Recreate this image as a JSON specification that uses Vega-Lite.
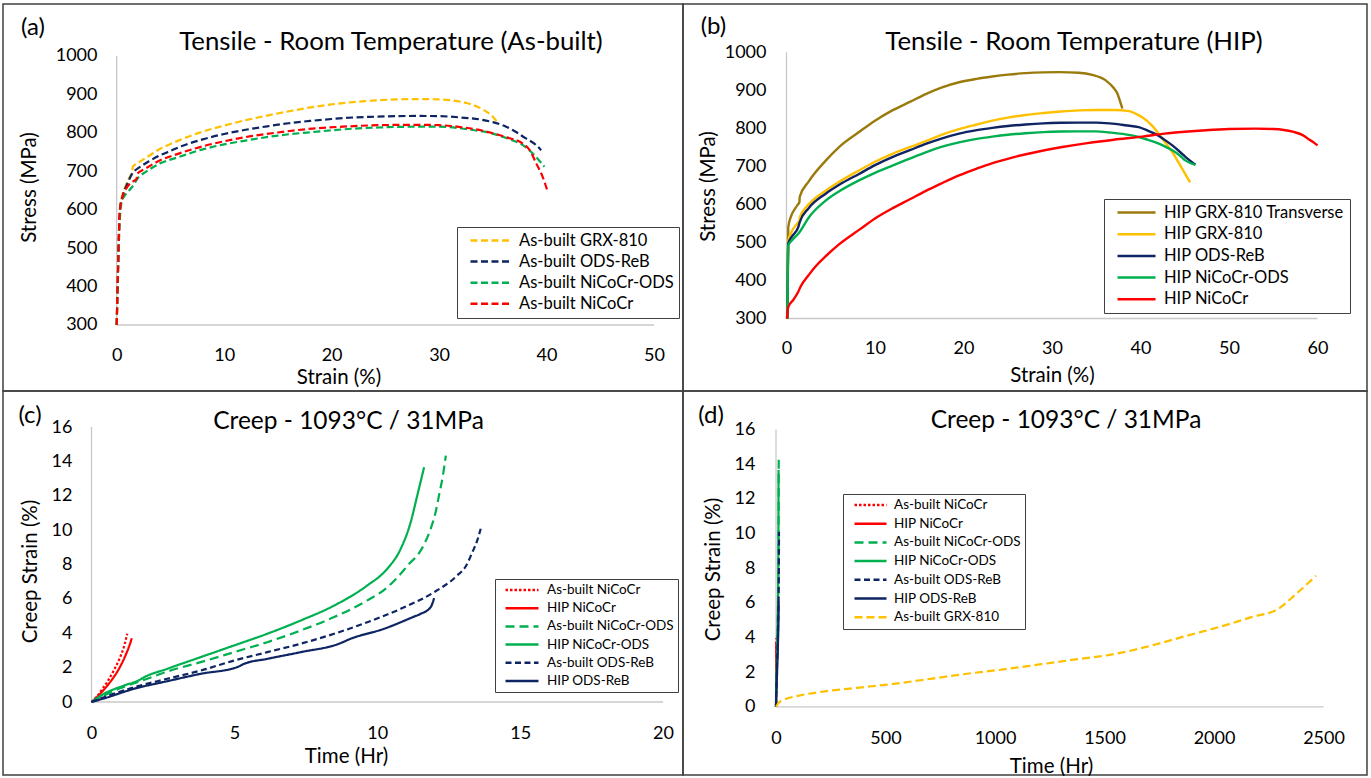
{
  "$schema": "https://vega.github.io/schema/vega-lite/v6.json",
  "padding": {"left": 2, "top": 3, "right": 3, "bottom": 2},
  "background": "white",
  "config": {
    "view": {"stroke": "#404040", "strokeWidth": 1.5},
    "font": "Lato",
    "axis": {"domain": false, "ticks": false, "tickSize": 0, "grid": false, "labelFont": "Lato", "labelFontSize": 18, "labelColor": "#000000", "titleFont": "Lato", "titleFontSize": 20.5, "titleFontWeight": "normal", "titleColor": "#000000", "labelFlush": false, "labelOverlap": false},
    "legend": {"title": null, "orient": "none", "symbolType": "stroke", "symbolStrokeWidth": 2.5, "labelFont": "Lato", "labelColor": "#000000", "fillColor": "white", "strokeColor": "#404040", "labelLimit": 400},
    "title": {"font": "Lato", "fontWeight": "normal", "color": "#000000", "anchor": "middle", "frame": "group", "baseline": "middle", "offset": 0},
    "line": {"interpolate": "monotone"}
  },
  "datasets": {
    "tensileAsBuilt": [
      {"series": "As-built GRX-810", "strain": 0, "stress": 300},
      {"series": "As-built GRX-810", "strain": 0.1, "stress": 420},
      {"series": "As-built GRX-810", "strain": 0.2, "stress": 530},
      {"series": "As-built GRX-810", "strain": 0.3, "stress": 600},
      {"series": "As-built GRX-810", "strain": 0.5, "stress": 635},
      {"series": "As-built GRX-810", "strain": 0.8, "stress": 660},
      {"series": "As-built GRX-810", "strain": 1.2, "stress": 685},
      {"series": "As-built GRX-810", "strain": 1.45, "stress": 700},
      {"series": "As-built GRX-810", "strain": 1.5, "stress": 712},
      {"series": "As-built GRX-810", "strain": 2, "stress": 722},
      {"series": "As-built GRX-810", "strain": 3, "stress": 740},
      {"series": "As-built GRX-810", "strain": 4, "stress": 758},
      {"series": "As-built GRX-810", "strain": 5, "stress": 771},
      {"series": "As-built GRX-810", "strain": 6, "stress": 783},
      {"series": "As-built GRX-810", "strain": 8, "stress": 803},
      {"series": "As-built GRX-810", "strain": 10, "stress": 819},
      {"series": "As-built GRX-810", "strain": 12, "stress": 833},
      {"series": "As-built GRX-810", "strain": 14, "stress": 845},
      {"series": "As-built GRX-810", "strain": 16, "stress": 856},
      {"series": "As-built GRX-810", "strain": 18.2, "stress": 867},
      {"series": "As-built GRX-810", "strain": 20, "stress": 874},
      {"series": "As-built GRX-810", "strain": 22, "stress": 880},
      {"series": "As-built GRX-810", "strain": 24.4, "stress": 885},
      {"series": "As-built GRX-810", "strain": 26, "stress": 887},
      {"series": "As-built GRX-810", "strain": 28, "stress": 888},
      {"series": "As-built GRX-810", "strain": 30, "stress": 887},
      {"series": "As-built GRX-810", "strain": 32, "stress": 881},
      {"series": "As-built GRX-810", "strain": 33, "stress": 874},
      {"series": "As-built GRX-810", "strain": 34, "stress": 862},
      {"series": "As-built GRX-810", "strain": 35, "stress": 842},
      {"series": "As-built GRX-810", "strain": 35.5, "stress": 825},
      {"series": "As-built ODS-ReB", "strain": 0, "stress": 300},
      {"series": "As-built ODS-ReB", "strain": 0.1, "stress": 420},
      {"series": "As-built ODS-ReB", "strain": 0.2, "stress": 530},
      {"series": "As-built ODS-ReB", "strain": 0.3, "stress": 600},
      {"series": "As-built ODS-ReB", "strain": 0.6, "stress": 640},
      {"series": "As-built ODS-ReB", "strain": 1.0, "stress": 668},
      {"series": "As-built ODS-ReB", "strain": 1.4, "stress": 692},
      {"series": "As-built ODS-ReB", "strain": 1.7, "stress": 702},
      {"series": "As-built ODS-ReB", "strain": 2, "stress": 708},
      {"series": "As-built ODS-ReB", "strain": 3, "stress": 726},
      {"series": "As-built ODS-ReB", "strain": 4, "stress": 741},
      {"series": "As-built ODS-ReB", "strain": 5, "stress": 753},
      {"series": "As-built ODS-ReB", "strain": 6, "stress": 765},
      {"series": "As-built ODS-ReB", "strain": 8, "stress": 783},
      {"series": "As-built ODS-ReB", "strain": 10, "stress": 797},
      {"series": "As-built ODS-ReB", "strain": 12, "stress": 808},
      {"series": "As-built ODS-ReB", "strain": 14, "stress": 817},
      {"series": "As-built ODS-ReB", "strain": 16, "stress": 825},
      {"series": "As-built ODS-ReB", "strain": 18, "stress": 831},
      {"series": "As-built ODS-ReB", "strain": 20, "stress": 836},
      {"series": "As-built ODS-ReB", "strain": 22, "stress": 840},
      {"series": "As-built ODS-ReB", "strain": 24, "stress": 842},
      {"series": "As-built ODS-ReB", "strain": 26, "stress": 843.5},
      {"series": "As-built ODS-ReB", "strain": 28, "stress": 844},
      {"series": "As-built ODS-ReB", "strain": 30, "stress": 843.5},
      {"series": "As-built ODS-ReB", "strain": 32, "stress": 840},
      {"series": "As-built ODS-ReB", "strain": 34, "stress": 834},
      {"series": "As-built ODS-ReB", "strain": 35, "stress": 828},
      {"series": "As-built ODS-ReB", "strain": 36, "stress": 819},
      {"series": "As-built ODS-ReB", "strain": 37, "stress": 805},
      {"series": "As-built ODS-ReB", "strain": 38, "stress": 787},
      {"series": "As-built ODS-ReB", "strain": 39, "stress": 769},
      {"series": "As-built ODS-ReB", "strain": 39.5, "stress": 755},
      {"series": "As-built NiCoCr-ODS", "strain": 0, "stress": 300},
      {"series": "As-built NiCoCr-ODS", "strain": 0.1, "stress": 410},
      {"series": "As-built NiCoCr-ODS", "strain": 0.2, "stress": 510},
      {"series": "As-built NiCoCr-ODS", "strain": 0.3, "stress": 580},
      {"series": "As-built NiCoCr-ODS", "strain": 0.5, "stress": 624},
      {"series": "As-built NiCoCr-ODS", "strain": 1.0, "stress": 645},
      {"series": "As-built NiCoCr-ODS", "strain": 1.43, "stress": 659},
      {"series": "As-built NiCoCr-ODS", "strain": 2.05, "stress": 685},
      {"series": "As-built NiCoCr-ODS", "strain": 2.67, "stress": 698},
      {"series": "As-built NiCoCr-ODS", "strain": 4, "stress": 720},
      {"series": "As-built NiCoCr-ODS", "strain": 5.77, "stress": 737},
      {"series": "As-built NiCoCr-ODS", "strain": 8, "stress": 757},
      {"series": "As-built NiCoCr-ODS", "strain": 10, "stress": 770},
      {"series": "As-built NiCoCr-ODS", "strain": 12, "stress": 780},
      {"series": "As-built NiCoCr-ODS", "strain": 15, "stress": 793},
      {"series": "As-built NiCoCr-ODS", "strain": 18.2, "stress": 802},
      {"series": "As-built NiCoCr-ODS", "strain": 21, "stress": 809},
      {"series": "As-built NiCoCr-ODS", "strain": 24.4, "stress": 814},
      {"series": "As-built NiCoCr-ODS", "strain": 28, "stress": 816},
      {"series": "As-built NiCoCr-ODS", "strain": 30, "stress": 816},
      {"series": "As-built NiCoCr-ODS", "strain": 32, "stress": 812},
      {"series": "As-built NiCoCr-ODS", "strain": 33, "stress": 808},
      {"series": "As-built NiCoCr-ODS", "strain": 35, "stress": 798},
      {"series": "As-built NiCoCr-ODS", "strain": 36, "stress": 789},
      {"series": "As-built NiCoCr-ODS", "strain": 37, "stress": 779},
      {"series": "As-built NiCoCr-ODS", "strain": 37.8, "stress": 768},
      {"series": "As-built NiCoCr-ODS", "strain": 38.5, "stress": 752},
      {"series": "As-built NiCoCr-ODS", "strain": 39, "stress": 738},
      {"series": "As-built NiCoCr-ODS", "strain": 39.5, "stress": 722},
      {"series": "As-built NiCoCr-ODS", "strain": 39.8, "stress": 712},
      {"series": "As-built NiCoCr", "strain": 0, "stress": 300},
      {"series": "As-built NiCoCr", "strain": 0.1, "stress": 420},
      {"series": "As-built NiCoCr", "strain": 0.2, "stress": 530},
      {"series": "As-built NiCoCr", "strain": 0.3, "stress": 600},
      {"series": "As-built NiCoCr", "strain": 0.6, "stress": 638},
      {"series": "As-built NiCoCr", "strain": 1.0, "stress": 660},
      {"series": "As-built NiCoCr", "strain": 1.5, "stress": 673},
      {"series": "As-built NiCoCr", "strain": 1.85, "stress": 680},
      {"series": "As-built NiCoCr", "strain": 1.9, "stress": 693},
      {"series": "As-built NiCoCr", "strain": 2.67, "stress": 707},
      {"series": "As-built NiCoCr", "strain": 4, "stress": 728},
      {"series": "As-built NiCoCr", "strain": 5.77, "stress": 746},
      {"series": "As-built NiCoCr", "strain": 8, "stress": 765},
      {"series": "As-built NiCoCr", "strain": 10, "stress": 778},
      {"series": "As-built NiCoCr", "strain": 12, "stress": 789},
      {"series": "As-built NiCoCr", "strain": 15, "stress": 801},
      {"series": "As-built NiCoCr", "strain": 18.2, "stress": 811},
      {"series": "As-built NiCoCr", "strain": 21, "stress": 816},
      {"series": "As-built NiCoCr", "strain": 24.4, "stress": 820},
      {"series": "As-built NiCoCr", "strain": 28, "stress": 821},
      {"series": "As-built NiCoCr", "strain": 30, "stress": 820},
      {"series": "As-built NiCoCr", "strain": 32, "stress": 815},
      {"series": "As-built NiCoCr", "strain": 34, "stress": 806},
      {"series": "As-built NiCoCr", "strain": 35, "stress": 799},
      {"series": "As-built NiCoCr", "strain": 36.2, "stress": 789},
      {"series": "As-built NiCoCr", "strain": 37.8, "stress": 772},
      {"series": "As-built NiCoCr", "strain": 38.5, "stress": 752},
      {"series": "As-built NiCoCr", "strain": 39.05, "stress": 720},
      {"series": "As-built NiCoCr", "strain": 39.65, "stress": 685},
      {"series": "As-built NiCoCr", "strain": 40.07, "stress": 650}
    ],
    "tensileHip": [
      {"series": "HIP GRX-810 Transverse", "strain": 0.1, "stress": 300},
      {"series": "HIP GRX-810 Transverse", "strain": 0.2, "stress": 540},
      {"series": "HIP GRX-810 Transverse", "strain": 0.47, "stress": 566},
      {"series": "HIP GRX-810 Transverse", "strain": 1.0, "stress": 590},
      {"series": "HIP GRX-810 Transverse", "strain": 1.33, "stress": 601},
      {"series": "HIP GRX-810 Transverse", "strain": 1.45, "stress": 605},
      {"series": "HIP GRX-810 Transverse", "strain": 1.5, "stress": 620},
      {"series": "HIP GRX-810 Transverse", "strain": 2.5, "stress": 660},
      {"series": "HIP GRX-810 Transverse", "strain": 4.43, "stress": 715},
      {"series": "HIP GRX-810 Transverse", "strain": 6, "stress": 752},
      {"series": "HIP GRX-810 Transverse", "strain": 8.19, "stress": 790},
      {"series": "HIP GRX-810 Transverse", "strain": 10, "stress": 820},
      {"series": "HIP GRX-810 Transverse", "strain": 11.96, "stress": 847},
      {"series": "HIP GRX-810 Transverse", "strain": 14, "stress": 870},
      {"series": "HIP GRX-810 Transverse", "strain": 15.73, "stress": 890},
      {"series": "HIP GRX-810 Transverse", "strain": 17.5, "stress": 907},
      {"series": "HIP GRX-810 Transverse", "strain": 19.5, "stress": 921},
      {"series": "HIP GRX-810 Transverse", "strain": 21.5, "stress": 930},
      {"series": "HIP GRX-810 Transverse", "strain": 23.25, "stress": 936},
      {"series": "HIP GRX-810 Transverse", "strain": 25, "stress": 941},
      {"series": "HIP GRX-810 Transverse", "strain": 27, "stress": 945},
      {"series": "HIP GRX-810 Transverse", "strain": 29, "stress": 947},
      {"series": "HIP GRX-810 Transverse", "strain": 30.8, "stress": 947.5},
      {"series": "HIP GRX-810 Transverse", "strain": 33, "stress": 946},
      {"series": "HIP GRX-810 Transverse", "strain": 34.55, "stress": 940.5},
      {"series": "HIP GRX-810 Transverse", "strain": 36.07, "stress": 926},
      {"series": "HIP GRX-810 Transverse", "strain": 37, "stress": 905},
      {"series": "HIP GRX-810 Transverse", "strain": 37.4, "stress": 891},
      {"series": "HIP GRX-810 Transverse", "strain": 37.7, "stress": 870},
      {"series": "HIP GRX-810 Transverse", "strain": 37.95, "stress": 852},
      {"series": "HIP GRX-810", "strain": 0.1, "stress": 300},
      {"series": "HIP GRX-810", "strain": 0.2, "stress": 505},
      {"series": "HIP GRX-810", "strain": 0.47, "stress": 523},
      {"series": "HIP GRX-810", "strain": 1.33, "stress": 553},
      {"series": "HIP GRX-810", "strain": 1.45, "stress": 556},
      {"series": "HIP GRX-810", "strain": 1.5, "stress": 566},
      {"series": "HIP GRX-810", "strain": 2.5, "stress": 600},
      {"series": "HIP GRX-810", "strain": 4.43, "stress": 636},
      {"series": "HIP GRX-810", "strain": 6, "stress": 660},
      {"series": "HIP GRX-810", "strain": 8.19, "stress": 689},
      {"series": "HIP GRX-810", "strain": 10, "stress": 712},
      {"series": "HIP GRX-810", "strain": 11.96, "stress": 733},
      {"series": "HIP GRX-810", "strain": 14, "stress": 751},
      {"series": "HIP GRX-810", "strain": 15.73, "stress": 766},
      {"series": "HIP GRX-810", "strain": 17.5, "stress": 783},
      {"series": "HIP GRX-810", "strain": 19.5, "stress": 798},
      {"series": "HIP GRX-810", "strain": 21.5, "stress": 810},
      {"series": "HIP GRX-810", "strain": 23.25, "stress": 820},
      {"series": "HIP GRX-810", "strain": 25, "stress": 828},
      {"series": "HIP GRX-810", "strain": 27, "stress": 835},
      {"series": "HIP GRX-810", "strain": 29, "stress": 840},
      {"series": "HIP GRX-810", "strain": 31, "stress": 844},
      {"series": "HIP GRX-810", "strain": 33, "stress": 847},
      {"series": "HIP GRX-810", "strain": 35, "stress": 848},
      {"series": "HIP GRX-810", "strain": 37, "stress": 848},
      {"series": "HIP GRX-810", "strain": 38.7, "stress": 845},
      {"series": "HIP GRX-810", "strain": 39.5, "stress": 838},
      {"series": "HIP GRX-810", "strain": 40.2, "stress": 829},
      {"series": "HIP GRX-810", "strain": 41.3, "stress": 807},
      {"series": "HIP GRX-810", "strain": 42.5, "stress": 772},
      {"series": "HIP GRX-810", "strain": 43.6, "stress": 737},
      {"series": "HIP GRX-810", "strain": 44.7, "stress": 694},
      {"series": "HIP GRX-810", "strain": 45.6, "stress": 658},
      {"series": "HIP ODS-ReB", "strain": 0.1, "stress": 300},
      {"series": "HIP ODS-ReB", "strain": 0.2, "stress": 497},
      {"series": "HIP ODS-ReB", "strain": 0.6, "stress": 515},
      {"series": "HIP ODS-ReB", "strain": 1.33, "stress": 540},
      {"series": "HIP ODS-ReB", "strain": 1.49, "stress": 553},
      {"series": "HIP ODS-ReB", "strain": 2.5, "stress": 590},
      {"series": "HIP ODS-ReB", "strain": 4.43, "stress": 628},
      {"series": "HIP ODS-ReB", "strain": 6, "stress": 652},
      {"series": "HIP ODS-ReB", "strain": 8.19, "stress": 680},
      {"series": "HIP ODS-ReB", "strain": 10, "stress": 703},
      {"series": "HIP ODS-ReB", "strain": 11.96, "stress": 724},
      {"series": "HIP ODS-ReB", "strain": 14, "stress": 743},
      {"series": "HIP ODS-ReB", "strain": 15.73, "stress": 759},
      {"series": "HIP ODS-ReB", "strain": 17.5, "stress": 773},
      {"series": "HIP ODS-ReB", "strain": 19.5, "stress": 786},
      {"series": "HIP ODS-ReB", "strain": 21.5, "stress": 795},
      {"series": "HIP ODS-ReB", "strain": 23.25, "stress": 801},
      {"series": "HIP ODS-ReB", "strain": 25, "stress": 806},
      {"series": "HIP ODS-ReB", "strain": 27, "stress": 810},
      {"series": "HIP ODS-ReB", "strain": 29, "stress": 813},
      {"series": "HIP ODS-ReB", "strain": 31, "stress": 814.5},
      {"series": "HIP ODS-ReB", "strain": 33, "stress": 815},
      {"series": "HIP ODS-ReB", "strain": 35, "stress": 815},
      {"series": "HIP ODS-ReB", "strain": 36.5, "stress": 813},
      {"series": "HIP ODS-ReB", "strain": 38.3, "stress": 808},
      {"series": "HIP ODS-ReB", "strain": 39.8, "stress": 803},
      {"series": "HIP ODS-ReB", "strain": 41, "stress": 792},
      {"series": "HIP ODS-ReB", "strain": 41.7, "stress": 785},
      {"series": "HIP ODS-ReB", "strain": 42.7, "stress": 770},
      {"series": "HIP ODS-ReB", "strain": 43.6, "stress": 755},
      {"series": "HIP ODS-ReB", "strain": 44.5, "stress": 737},
      {"series": "HIP ODS-ReB", "strain": 45.1, "stress": 724},
      {"series": "HIP ODS-ReB", "strain": 46.2, "stress": 704},
      {"series": "HIP NiCoCr-ODS", "strain": 0.1, "stress": 300},
      {"series": "HIP NiCoCr-ODS", "strain": 0.2, "stress": 492},
      {"series": "HIP NiCoCr-ODS", "strain": 0.6, "stress": 505},
      {"series": "HIP NiCoCr-ODS", "strain": 1.33, "stress": 523},
      {"series": "HIP NiCoCr-ODS", "strain": 1.5, "stress": 528},
      {"series": "HIP NiCoCr-ODS", "strain": 2.5, "stress": 565},
      {"series": "HIP NiCoCr-ODS", "strain": 4.43, "stress": 610},
      {"series": "HIP NiCoCr-ODS", "strain": 6, "stress": 635},
      {"series": "HIP NiCoCr-ODS", "strain": 8.19, "stress": 663},
      {"series": "HIP NiCoCr-ODS", "strain": 10, "stress": 683},
      {"series": "HIP NiCoCr-ODS", "strain": 11.96, "stress": 702},
      {"series": "HIP NiCoCr-ODS", "strain": 14, "stress": 721},
      {"series": "HIP NiCoCr-ODS", "strain": 15.73, "stress": 737},
      {"series": "HIP NiCoCr-ODS", "strain": 17.5, "stress": 751},
      {"series": "HIP NiCoCr-ODS", "strain": 19.5, "stress": 763},
      {"series": "HIP NiCoCr-ODS", "strain": 21.5, "stress": 772},
      {"series": "HIP NiCoCr-ODS", "strain": 23.25, "stress": 778},
      {"series": "HIP NiCoCr-ODS", "strain": 25, "stress": 783},
      {"series": "HIP NiCoCr-ODS", "strain": 27, "stress": 787},
      {"series": "HIP NiCoCr-ODS", "strain": 29, "stress": 790},
      {"series": "HIP NiCoCr-ODS", "strain": 31, "stress": 791.5},
      {"series": "HIP NiCoCr-ODS", "strain": 33, "stress": 792},
      {"series": "HIP NiCoCr-ODS", "strain": 35, "stress": 792},
      {"series": "HIP NiCoCr-ODS", "strain": 36.5, "stress": 789},
      {"series": "HIP NiCoCr-ODS", "strain": 38.3, "stress": 784},
      {"series": "HIP NiCoCr-ODS", "strain": 39.8, "stress": 777},
      {"series": "HIP NiCoCr-ODS", "strain": 40.8, "stress": 770},
      {"series": "HIP NiCoCr-ODS", "strain": 41.7, "stress": 763},
      {"series": "HIP NiCoCr-ODS", "strain": 42.7, "stress": 753},
      {"series": "HIP NiCoCr-ODS", "strain": 43.6, "stress": 742},
      {"series": "HIP NiCoCr-ODS", "strain": 44.5, "stress": 727},
      {"series": "HIP NiCoCr-ODS", "strain": 45.1, "stress": 715},
      {"series": "HIP NiCoCr-ODS", "strain": 46.2, "stress": 704},
      {"series": "HIP NiCoCr", "strain": 0.05, "stress": 300},
      {"series": "HIP NiCoCr", "strain": 0.2, "stress": 330},
      {"series": "HIP NiCoCr", "strain": 0.8, "stress": 350},
      {"series": "HIP NiCoCr", "strain": 1.3, "stress": 369},
      {"series": "HIP NiCoCr", "strain": 1.6, "stress": 384},
      {"series": "HIP NiCoCr", "strain": 2.5, "stress": 414},
      {"series": "HIP NiCoCr", "strain": 3.4, "stress": 440},
      {"series": "HIP NiCoCr", "strain": 4.4, "stress": 463},
      {"series": "HIP NiCoCr", "strain": 6, "stress": 496},
      {"series": "HIP NiCoCr", "strain": 8.2, "stress": 533},
      {"series": "HIP NiCoCr", "strain": 10, "stress": 563},
      {"series": "HIP NiCoCr", "strain": 12, "stress": 590},
      {"series": "HIP NiCoCr", "strain": 14, "stress": 614},
      {"series": "HIP NiCoCr", "strain": 15.7, "stress": 635},
      {"series": "HIP NiCoCr", "strain": 17.5, "stress": 655},
      {"series": "HIP NiCoCr", "strain": 19.5, "stress": 676},
      {"series": "HIP NiCoCr", "strain": 21.5, "stress": 694},
      {"series": "HIP NiCoCr", "strain": 23.2, "stress": 708},
      {"series": "HIP NiCoCr", "strain": 25.5, "stress": 723},
      {"series": "HIP NiCoCr", "strain": 28.5, "stress": 739},
      {"series": "HIP NiCoCr", "strain": 31, "stress": 750},
      {"series": "HIP NiCoCr", "strain": 34, "stress": 761},
      {"series": "HIP NiCoCr", "strain": 37, "stress": 770},
      {"series": "HIP NiCoCr", "strain": 40.2, "stress": 778},
      {"series": "HIP NiCoCr", "strain": 42.7, "stress": 786},
      {"series": "HIP NiCoCr", "strain": 45, "stress": 791},
      {"series": "HIP NiCoCr", "strain": 47.4, "stress": 795},
      {"series": "HIP NiCoCr", "strain": 50, "stress": 798},
      {"series": "HIP NiCoCr", "strain": 53, "stress": 799},
      {"series": "HIP NiCoCr", "strain": 55, "stress": 798},
      {"series": "HIP NiCoCr", "strain": 57.2, "stress": 791},
      {"series": "HIP NiCoCr", "strain": 58.5, "stress": 780},
      {"series": "HIP NiCoCr", "strain": 59, "stress": 771},
      {"series": "HIP NiCoCr", "strain": 59.5, "stress": 764},
      {"series": "HIP NiCoCr", "strain": 60, "stress": 755}
    ],
    "creep": [
      {"series": "As-built NiCoCr", "time": 0, "creepStrain": 0},
      {"series": "As-built NiCoCr", "time": 0.2, "creepStrain": 0.35},
      {"series": "As-built NiCoCr", "time": 0.4, "creepStrain": 0.8},
      {"series": "As-built NiCoCr", "time": 0.6, "creepStrain": 1.3},
      {"series": "As-built NiCoCr", "time": 0.8, "creepStrain": 1.9},
      {"series": "As-built NiCoCr", "time": 1.0, "creepStrain": 2.6},
      {"series": "As-built NiCoCr", "time": 1.15, "creepStrain": 3.3},
      {"series": "As-built NiCoCr", "time": 1.25, "creepStrain": 3.97},
      {"series": "HIP NiCoCr", "time": 0, "creepStrain": 0},
      {"series": "HIP NiCoCr", "time": 0.2, "creepStrain": 0.3},
      {"series": "HIP NiCoCr", "time": 0.4, "creepStrain": 0.65},
      {"series": "HIP NiCoCr", "time": 0.6, "creepStrain": 1.05},
      {"series": "HIP NiCoCr", "time": 0.8, "creepStrain": 1.5},
      {"series": "HIP NiCoCr", "time": 1.0, "creepStrain": 2.05},
      {"series": "HIP NiCoCr", "time": 1.2, "creepStrain": 2.75},
      {"series": "HIP NiCoCr", "time": 1.33, "creepStrain": 3.3},
      {"series": "HIP NiCoCr", "time": 1.41, "creepStrain": 3.71},
      {"series": "As-built NiCoCr-ODS", "time": 0, "creepStrain": 0},
      {"series": "As-built NiCoCr-ODS", "time": 0.44, "creepStrain": 0.38},
      {"series": "As-built NiCoCr-ODS", "time": 1.0, "creepStrain": 0.8},
      {"series": "As-built NiCoCr-ODS", "time": 1.78, "creepStrain": 1.25},
      {"series": "As-built NiCoCr-ODS", "time": 2.65, "creepStrain": 1.77},
      {"series": "As-built NiCoCr-ODS", "time": 3.82, "creepStrain": 2.32},
      {"series": "As-built NiCoCr-ODS", "time": 4.99, "creepStrain": 2.9},
      {"series": "As-built NiCoCr-ODS", "time": 6.15, "creepStrain": 3.48},
      {"series": "As-built NiCoCr-ODS", "time": 7.32, "creepStrain": 4.16},
      {"series": "As-built NiCoCr-ODS", "time": 8.49, "creepStrain": 4.94},
      {"series": "As-built NiCoCr-ODS", "time": 9.65, "creepStrain": 5.91},
      {"series": "As-built NiCoCr-ODS", "time": 10.3, "creepStrain": 6.6},
      {"series": "As-built NiCoCr-ODS", "time": 10.82, "creepStrain": 7.46},
      {"series": "As-built NiCoCr-ODS", "time": 11.15, "creepStrain": 8.1},
      {"series": "As-built NiCoCr-ODS", "time": 11.4, "creepStrain": 8.52},
      {"series": "As-built NiCoCr-ODS", "time": 11.65, "creepStrain": 9.2},
      {"series": "As-built NiCoCr-ODS", "time": 11.87, "creepStrain": 10.08},
      {"series": "As-built NiCoCr-ODS", "time": 12.05, "creepStrain": 11.1},
      {"series": "As-built NiCoCr-ODS", "time": 12.16, "creepStrain": 12.01},
      {"series": "As-built NiCoCr-ODS", "time": 12.3, "creepStrain": 13.2},
      {"series": "As-built NiCoCr-ODS", "time": 12.4, "creepStrain": 14.34},
      {"series": "HIP NiCoCr-ODS", "time": 0, "creepStrain": 0},
      {"series": "HIP NiCoCr-ODS", "time": 0.44, "creepStrain": 0.48},
      {"series": "HIP NiCoCr-ODS", "time": 1.14, "creepStrain": 0.96},
      {"series": "HIP NiCoCr-ODS", "time": 1.7, "creepStrain": 1.3},
      {"series": "HIP NiCoCr-ODS", "time": 1.8, "creepStrain": 1.4},
      {"series": "HIP NiCoCr-ODS", "time": 2.65, "creepStrain": 1.93},
      {"series": "HIP NiCoCr-ODS", "time": 3.82, "creepStrain": 2.61},
      {"series": "HIP NiCoCr-ODS", "time": 4.99, "creepStrain": 3.29},
      {"series": "HIP NiCoCr-ODS", "time": 6.15, "creepStrain": 3.97},
      {"series": "HIP NiCoCr-ODS", "time": 7.32, "creepStrain": 4.74},
      {"series": "HIP NiCoCr-ODS", "time": 8.49, "creepStrain": 5.61},
      {"series": "HIP NiCoCr-ODS", "time": 9.65, "creepStrain": 6.78},
      {"series": "HIP NiCoCr-ODS", "time": 10.35, "creepStrain": 7.75},
      {"series": "HIP NiCoCr-ODS", "time": 10.82, "creepStrain": 8.91},
      {"series": "HIP NiCoCr-ODS", "time": 11.17, "creepStrain": 10.46},
      {"series": "HIP NiCoCr-ODS", "time": 11.4, "creepStrain": 12.01},
      {"series": "HIP NiCoCr-ODS", "time": 11.64, "creepStrain": 13.66},
      {"series": "As-built ODS-ReB", "time": 0, "creepStrain": 0},
      {"series": "As-built ODS-ReB", "time": 0.44, "creepStrain": 0.28},
      {"series": "As-built ODS-ReB", "time": 1.49, "creepStrain": 0.86},
      {"series": "As-built ODS-ReB", "time": 2.65, "creepStrain": 1.35},
      {"series": "As-built ODS-ReB", "time": 3.82, "creepStrain": 1.83},
      {"series": "As-built ODS-ReB", "time": 4.99, "creepStrain": 2.41},
      {"series": "As-built ODS-ReB", "time": 6.15, "creepStrain": 2.9},
      {"series": "As-built ODS-ReB", "time": 7.32, "creepStrain": 3.39},
      {"series": "As-built ODS-ReB", "time": 8.49, "creepStrain": 3.97},
      {"series": "As-built ODS-ReB", "time": 9.65, "creepStrain": 4.64},
      {"series": "As-built ODS-ReB", "time": 10.82, "creepStrain": 5.42},
      {"series": "As-built ODS-ReB", "time": 11.99, "creepStrain": 6.39},
      {"series": "As-built ODS-ReB", "time": 12.8, "creepStrain": 7.36},
      {"series": "As-built ODS-ReB", "time": 13.1, "creepStrain": 7.9},
      {"series": "As-built ODS-ReB", "time": 13.33, "creepStrain": 8.72},
      {"series": "As-built ODS-ReB", "time": 13.5, "creepStrain": 9.4},
      {"series": "As-built ODS-ReB", "time": 13.62, "creepStrain": 10.08},
      {"series": "HIP ODS-ReB", "time": 0, "creepStrain": 0},
      {"series": "HIP ODS-ReB", "time": 0.44, "creepStrain": 0.21},
      {"series": "HIP ODS-ReB", "time": 1.49, "creepStrain": 0.77},
      {"series": "HIP ODS-ReB", "time": 2.65, "creepStrain": 1.21},
      {"series": "HIP ODS-ReB", "time": 3.82, "creepStrain": 1.64},
      {"series": "HIP ODS-ReB", "time": 5.1, "creepStrain": 2.03},
      {"series": "HIP ODS-ReB", "time": 5.34, "creepStrain": 2.22},
      {"series": "HIP ODS-ReB", "time": 6.15, "creepStrain": 2.51},
      {"series": "HIP ODS-ReB", "time": 7.32, "creepStrain": 2.9},
      {"series": "HIP ODS-ReB", "time": 8.66, "creepStrain": 3.39},
      {"series": "HIP ODS-ReB", "time": 9.07, "creepStrain": 3.68},
      {"series": "HIP ODS-ReB", "time": 10.24, "creepStrain": 4.26},
      {"series": "HIP ODS-ReB", "time": 11.29, "creepStrain": 4.97},
      {"series": "HIP ODS-ReB", "time": 11.52, "creepStrain": 5.13},
      {"series": "HIP ODS-ReB", "time": 11.87, "creepStrain": 5.52},
      {"series": "HIP ODS-ReB", "time": 11.99, "creepStrain": 6.04},
      {"series": "As-built GRX-810", "time": 0, "creepStrain": 0},
      {"series": "As-built GRX-810", "time": 10, "creepStrain": 0.2},
      {"series": "As-built GRX-810", "time": 33, "creepStrain": 0.38},
      {"series": "As-built GRX-810", "time": 100, "creepStrain": 0.63},
      {"series": "As-built GRX-810", "time": 216, "creepStrain": 0.88},
      {"series": "As-built GRX-810", "time": 382, "creepStrain": 1.11},
      {"series": "As-built GRX-810", "time": 548, "creepStrain": 1.34},
      {"series": "As-built GRX-810", "time": 714, "creepStrain": 1.63},
      {"series": "As-built GRX-810", "time": 880, "creepStrain": 1.92},
      {"series": "As-built GRX-810", "time": 1046, "creepStrain": 2.17},
      {"series": "As-built GRX-810", "time": 1212, "creepStrain": 2.46},
      {"series": "As-built GRX-810", "time": 1378, "creepStrain": 2.75},
      {"series": "As-built GRX-810", "time": 1544, "creepStrain": 3.04},
      {"series": "As-built GRX-810", "time": 1710, "creepStrain": 3.52},
      {"series": "As-built GRX-810", "time": 1876, "creepStrain": 4.1},
      {"series": "As-built GRX-810", "time": 2042, "creepStrain": 4.67},
      {"series": "As-built GRX-810", "time": 2175, "creepStrain": 5.19},
      {"series": "As-built GRX-810", "time": 2291, "creepStrain": 5.63},
      {"series": "As-built GRX-810", "time": 2374, "creepStrain": 6.5},
      {"series": "As-built GRX-810", "time": 2466, "creepStrain": 7.56}
    ]
  },
  "columns": 2,
  "spacing": 0,
  "bounds": "flush",
  "resolve": {"scale": {"x": "independent", "y": "independent", "color": "independent", "strokeDash": "independent"}, "legend": {"color": "independent", "strokeDash": "independent"}},
  "concat": [
    {
      "width": 680,
      "height": 387,
      "title": {"text": "Tensile - Room Temperature (As-built)", "fontSize": 25.8, "dx": 48, "dy": 56},
      "layer": [
        {
          "data": {"values": [{}]},
          "mark": {"type": "rule", "color": "#C8C8C8", "strokeWidth": 1.3},
          "encoding": {"x": {"datum": 0}, "y": {"datum": 300}, "y2": {"datum": 1000}}
        },
        {
          "data": {"values": [{}]},
          "mark": {"type": "rule", "color": "#C8C8C8", "strokeWidth": 1.3},
          "encoding": {"x": {"datum": 0}, "x2": {"datum": 50}, "y": {"datum": 300}}
        },
        {
          "data": {"name": "tensileAsBuilt"},
          "mark": {"type": "line", "strokeWidth": 2.2},
          "encoding": {
            "x": {"field": "strain", "type": "quantitative", "scale": {"domain": [-10.581, 52.699], "nice": false, "zero": false},
              "axis": {"title": "Strain (%)", "values": [0, 10, 20, 30, 40, 50], "format": "d", "offset": -66, "labelPadding": 21.5, "titleX": 335.5, "titleY": 52.5, "titleBaseline": "middle"}},
            "y": {"field": "stress", "type": "quantitative", "scale": {"domain": [128.25, 1135.31], "nice": false, "zero": false},
              "axis": {"title": "Stress (MPa)", "values": [300, 400, 500, 600, 700, 800, 900, 1000], "format": "d", "offset": -113.7, "labelPadding": 19.7, "titleX": -87.2, "titleY": 183, "titleBaseline": "middle", "titleAlign": "center"}},
            "color": {"field": "series", "type": "nominal",
              "scale": {"domain": ["As-built GRX-810", "As-built ODS-ReB", "As-built NiCoCr-ODS", "As-built NiCoCr"], "range": ["#FFC000", "#0E2463", "#00B050", "#FF0000"]},
              "legend": {"legendX": 454, "legendY": 223, "padding": 5, "symbolSize": 1600, "symbolOffset": 7, "labelOffset": 7, "labelFontSize": 16.5, "rowPadding": 4.1, "clipHeight": 17}},
            "strokeDash": {"field": "series", "type": "nominal",
              "scale": {"domain": ["As-built GRX-810", "As-built ODS-ReB", "As-built NiCoCr-ODS", "As-built NiCoCr"], "range": [[7, 3.5], [7, 3.5], [7, 3.5], [7, 3.5]]},
              "legend": {"legendX": 454, "legendY": 223, "padding": 5, "symbolSize": 1600, "symbolOffset": 7, "labelOffset": 7, "labelFontSize": 16.5, "rowPadding": 4.1, "clipHeight": 17}}
          }
        },
        {
          "data": {"values": [{}]},
          "mark": {"type": "text", "fontSize": 24, "font": "Lato", "align": "center", "baseline": "middle", "color": "#000000"},
          "encoding": {"x": {"datum": -7.789}, "y": {"datum": 1071.56}, "text": {"value": "(a)"}}
        }
      ]
    },
    {
      "width": 684,
      "height": 387,
      "title": {"text": "Tensile - Room Temperature (HIP)", "fontSize": 25.8, "dx": 49, "dy": 56},
      "layer": [
        {
          "data": {"values": [{}]},
          "mark": {"type": "rule", "color": "#C8C8C8", "strokeWidth": 1.3},
          "encoding": {"x": {"datum": 0}, "y": {"datum": 300}, "y2": {"datum": 1000}}
        },
        {
          "data": {"values": [{}]},
          "mark": {"type": "rule", "color": "#C8C8C8", "strokeWidth": 1.3},
          "encoding": {"x": {"datum": 0}, "x2": {"datum": 60}, "y": {"datum": 300}}
        },
        {
          "data": {"name": "tensileHip"},
          "mark": {"type": "line", "strokeWidth": 2.4},
          "encoding": {
            "x": {"field": "strain", "type": "quantitative", "scale": {"domain": [-11.695, 65.593], "nice": false, "zero": false},
              "axis": {"title": "Strain (%)", "values": [0, 10, 20, 30, 40, 50, 60], "format": "d", "offset": -72.5, "labelPadding": 21, "titleX": 369, "titleY": 57, "titleBaseline": "middle"}},
            "y": {"field": "stress", "type": "quantitative", "scale": {"domain": [109.42, 1126.7], "nice": false, "zero": false},
              "axis": {"title": "Stress (MPa)", "values": [300, 400, 500, 600, 700, 800, 900, 1000], "format": "d", "offset": -103.5, "labelPadding": 20.5, "titleX": -78.5, "titleY": 182, "titleBaseline": "middle", "titleAlign": "center"}},
            "color": {"field": "series", "type": "nominal",
              "scale": {"domain": ["HIP GRX-810 Transverse", "HIP GRX-810", "HIP ODS-ReB", "HIP NiCoCr-ODS", "HIP NiCoCr"], "range": ["#9A7A0C", "#FFC000", "#0E2463", "#00B050", "#FF0000"]},
              "legend": {"legendX": 421, "legendY": 195, "padding": 5, "symbolSize": 1444, "symbolOffset": 7, "labelOffset": 7, "labelFontSize": 16.5, "rowPadding": 4.7, "clipHeight": 17}}
          }
        },
        {
          "data": {"values": [{}]},
          "mark": {"type": "text", "fontSize": 24, "font": "Lato", "align": "center", "baseline": "middle", "color": "#000000"},
          "encoding": {"x": {"datum": -8.249}, "y": {"datum": 1066.2}, "text": {"value": "(b)"}}
        }
      ]
    },
    {
      "width": 680,
      "height": 384,
      "title": {"text": "Creep - 1093°C / 31MPa", "fontSize": 24.5, "dx": 5.5, "dy": 47},
      "layer": [
        {
          "data": {"values": [{}]},
          "mark": {"type": "rule", "color": "#C8C8C8", "strokeWidth": 1.3},
          "encoding": {"x": {"datum": 0}, "y": {"datum": 0}, "y2": {"datum": 16}}
        },
        {
          "data": {"values": [{}]},
          "mark": {"type": "rule", "color": "#C8C8C8", "strokeWidth": 1.3},
          "encoding": {"x": {"datum": 0}, "x2": {"datum": 20}, "y": {"datum": 0}}
        },
        {
          "data": {"name": "creep"},
          "transform": [{"filter": "datum.series !== 'As-built GRX-810'"}],
          "mark": {"type": "line", "strokeWidth": 2.2},
          "encoding": {
            "x": {"field": "time", "type": "quantitative", "scale": {"domain": [-3.0971, 20.6999], "nice": false, "zero": false},
              "axis": {"title": "Time (Hr)", "values": [0, 5, 10, 15, 20], "format": "d", "offset": -73, "labelPadding": 22.5, "titleX": 343, "titleY": 54.5, "titleBaseline": "middle"}},
            "y": {"field": "creepStrain", "type": "quantitative", "scale": {"domain": [-4.2472, 18.0946], "nice": false, "zero": false},
              "axis": {"title": "Creep Strain (%)", "values": [0, 2, 4, 6, 8, 10, 12, 14, 16], "format": "d", "offset": -88.5, "labelPadding": 19.5, "titleX": -61, "titleY": 180, "titleBaseline": "middle", "titleAlign": "center"}},
            "color": {"field": "series", "type": "nominal",
              "scale": {"domain": ["As-built NiCoCr", "HIP NiCoCr", "As-built NiCoCr-ODS", "HIP NiCoCr-ODS", "As-built ODS-ReB", "HIP ODS-ReB"], "range": ["#FF0000", "#FF0000", "#00B050", "#00B050", "#0E2463", "#0E2463"]},
              "legend": {"legendX": 492, "legendY": 188, "padding": 4, "symbolSize": 1089, "symbolOffset": 5, "labelOffset": 7, "labelFontSize": 13.5, "rowPadding": 4.2, "clipHeight": 14}},
            "strokeDash": {"field": "series", "type": "nominal",
              "scale": {"domain": ["As-built NiCoCr", "HIP NiCoCr", "As-built NiCoCr-ODS", "HIP NiCoCr-ODS", "As-built ODS-ReB", "HIP ODS-ReB"], "range": [[2.5, 2], [1, 0], [9, 5], [1, 0], [6, 3.5], [1, 0]]},
              "legend": {"legendX": 492, "legendY": 188, "padding": 4, "symbolSize": 1089, "symbolOffset": 5, "labelOffset": 7, "labelFontSize": 13.5, "rowPadding": 4.2, "clipHeight": 14}}
          }
        },
        {
          "data": {"values": [{}]},
          "mark": {"type": "text", "fontSize": 24, "font": "Lato", "align": "center", "baseline": "middle", "color": "#000000"},
          "encoding": {"x": {"datum": -2.152}, "y": {"datum": 16.64}, "text": {"value": "(c)"}}
        }
      ]
    },
    {
      "width": 684,
      "height": 384,
      "title": {"text": "Creep - 1093°C / 31MPa", "fontSize": 24.5, "dx": 41, "dy": 46},
      "layer": [
        {
          "data": {"values": [{}]},
          "mark": {"type": "rule", "color": "#C8C8C8", "strokeWidth": 1.3},
          "encoding": {"x": {"datum": 0}, "y": {"datum": 0}, "y2": {"datum": 16}}
        },
        {
          "data": {"values": [{}]},
          "mark": {"type": "rule", "color": "#C8C8C8", "strokeWidth": 1.3},
          "encoding": {"x": {"datum": 0}, "x2": {"datum": 2500}, "y": {"datum": 0}}
        },
        {
          "data": {"name": "creep"},
          "mark": {"type": "line", "strokeWidth": 2.2},
          "encoding": {
            "x": {"field": "time", "type": "quantitative", "scale": {"domain": [-424.66, 2698.63], "nice": false, "zero": false},
              "axis": {"title": "Time (Hr)", "values": [0, 500, 1000, 1500, 2000, 2500], "format": "d", "offset": -68.2, "labelPadding": 22.5, "titleX": 368, "titleY": 59.7, "titleBaseline": "middle"}},
            "y": {"field": "creepStrain", "type": "quantitative", "scale": {"domain": [-3.9354, 18.2216], "nice": false, "zero": false},
              "axis": {"title": "Creep Strain (%)", "values": [0, 2, 4, 6, 8, 10, 12, 14, 16], "format": "d", "offset": -93, "labelPadding": 21, "titleX": -63, "titleY": 178, "titleBaseline": "middle", "titleAlign": "center"}},
            "color": {"field": "series", "type": "nominal",
              "scale": {"domain": ["As-built NiCoCr", "HIP NiCoCr", "As-built NiCoCr-ODS", "HIP NiCoCr-ODS", "As-built ODS-ReB", "HIP ODS-ReB", "As-built GRX-810"], "range": ["#FF0000", "#FF0000", "#00B050", "#00B050", "#0E2463", "#0E2463", "#FFC000"]},
              "legend": {"legendX": 160, "legendY": 103, "padding": 4, "symbolSize": 1024, "symbolOffset": 6, "labelOffset": 6, "labelFontSize": 13.5, "rowPadding": 4.7, "clipHeight": 14}},
            "strokeDash": {"field": "series", "type": "nominal",
              "scale": {"domain": ["As-built NiCoCr", "HIP NiCoCr", "As-built NiCoCr-ODS", "HIP NiCoCr-ODS", "As-built ODS-ReB", "HIP ODS-ReB", "As-built GRX-810"], "range": [[2.5, 2], [1, 0], [9, 5], [1, 0], [6, 3.5], [1, 0], [8, 4]]},
              "legend": {"legendX": 160, "legendY": 103, "padding": 4, "symbolSize": 1024, "symbolOffset": 6, "labelOffset": 6, "labelFontSize": 13.5, "rowPadding": 4.7, "clipHeight": 14}}
          }
        },
        {
          "data": {"values": [{}]},
          "mark": {"type": "text", "fontSize": 24, "font": "Lato", "align": "center", "baseline": "middle", "color": "#000000"},
          "encoding": {"x": {"datum": -296.8}, "y": {"datum": 16.78}, "text": {"value": "(d)"}}
        }
      ]
    }
  ]
}
